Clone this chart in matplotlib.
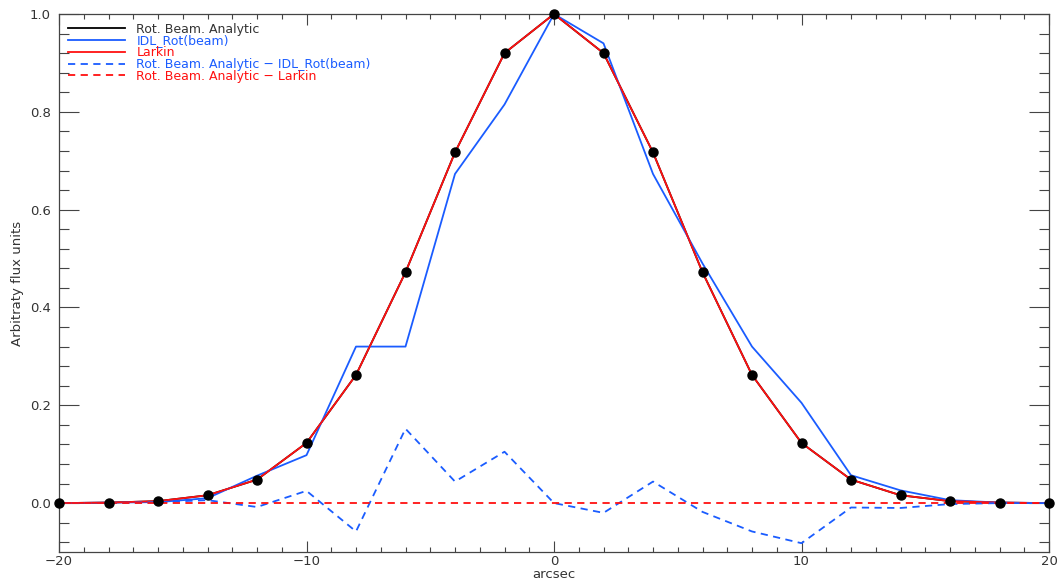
import matplotlib
matplotlib.use('Agg')
import matplotlib.pyplot as plt
from matplotlib.ticker import MultipleLocator

# offsets in arcsec
x = [-20, -18, -16, -14, -12, -10, -8, -6, -4, -2, 0, 2, 4, 6, 8, 10, 12, 14, 16, 18, 20]

# rotated beam, analytic
analytic = [0.0, 0.001, 0.004, 0.016, 0.048, 0.123, 0.262, 0.472, 0.717, 0.920, 1.0,
            0.920, 0.717, 0.472, 0.262, 0.123, 0.048, 0.016, 0.004, 0.001, 0.0]
# IDL rot(beam)
idl_rot = [0.0, 0.001, 0.002, 0.010, 0.056, 0.098, 0.320, 0.320, 0.673, 0.815, 1.0,
           0.940, 0.673, 0.490, 0.320, 0.205, 0.057, 0.026, 0.006, 0.001, 0.0]
# Larkin
larkin = [0.0, 0.001, 0.004, 0.016, 0.048, 0.123, 0.262, 0.472, 0.717, 0.920, 1.0,
          0.920, 0.717, 0.472, 0.262, 0.123, 0.048, 0.016, 0.004, 0.001, 0.0]

diff_idl = [a - b for a, b in zip(analytic, idl_rot)]
diff_larkin = [a - b for a, b in zip(analytic, larkin)]

blue = '#1a5cff'
red = '#ff1010'
axis_col = '#444444'

plt.rcParams['font.family'] = ['DejaVu Sans']

fig = plt.figure(figsize=(10.57, 5.82), dpi=100)
ax = fig.add_axes([59 / 1057, 30 / 582, 990 / 1057, 538 / 582])

ax.plot(x, analytic, color='black', lw=1.3, label='Rot. Beam. Analytic')
ax.plot(x, idl_rot, color=blue, lw=1.3, label='IDL_Rot(beam)')
ax.plot(x, larkin, color=red, lw=1.3, label='Larkin')
ax.plot(x, diff_idl, color=blue, lw=1.3, ls=(0, (4, 3)),
        label='Rot. Beam. Analytic \u2212 IDL_Rot(beam)')
ax.plot(x, diff_larkin, color=red, lw=1.3, ls=(0, (4, 3)),
        label='Rot. Beam. Analytic \u2212 Larkin')
ax.plot(x, analytic, 'o', color='black', ms=6.5, zorder=5, clip_on=False)

ax.set_xlim(-20, 20)
ax.set_ylim(-0.1, 1.0)
ax.xaxis.set_major_locator(MultipleLocator(10))
ax.xaxis.set_minor_locator(MultipleLocator(1))
ax.yaxis.set_major_locator(MultipleLocator(0.2))
ax.yaxis.set_minor_locator(MultipleLocator(0.04))
ax.yaxis.set_major_formatter(matplotlib.ticker.FormatStrFormatter('%.1f'))

ax.tick_params(axis='x', which='major', direction='in', length=7.8, width=0.8,
               top=True, bottom=True, color=axis_col, labelcolor='#333333',
               labelsize=9.5, pad=2)
ax.tick_params(axis='x', which='minor', direction='in', length=3.9, width=0.8,
               top=True, bottom=True, color=axis_col)
ax.tick_params(axis='y', which='major', direction='in', length=14.4, width=0.8,
               left=True, right=True, color=axis_col, labelcolor='#333333',
               labelsize=9.5, pad=6)
ax.tick_params(axis='y', which='minor', direction='in', length=7.2, width=0.8,
               left=True, right=True, color=axis_col)
for sp in ax.spines.values():
    sp.set_color(axis_col)
    sp.set_linewidth(0.9)

ax.set_xlabel('arcsec', fontsize=9.5, color='#333333', labelpad=0)
ax.set_ylabel('Arbitraty flux units', fontsize=9.5, color='#333333', labelpad=4)

leg = ax.legend(loc='upper left', frameon=False, fontsize=9, handlelength=4.6,
                handletextpad=0.9, labelspacing=-0.1, borderaxespad=0.4,
                borderpad=0.3)
for txt, line in zip(leg.get_texts(), leg.get_lines()):
    c = line.get_color()
    txt.set_color('#333333' if c == 'black' else c)

fig.savefig('out.png', dpi=100)
